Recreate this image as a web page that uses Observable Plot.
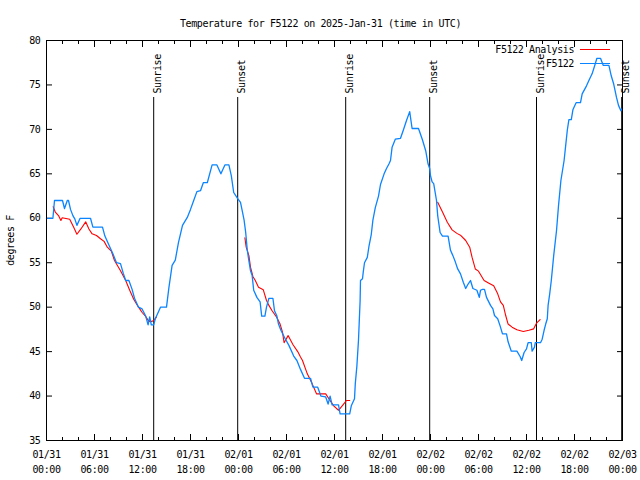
<!DOCTYPE html>
<html><head><meta charset="utf-8">
<script src="https://cdn.jsdelivr.net/npm/d3@7"></script>
<script src="https://cdn.jsdelivr.net/npm/@observablehq/plot@0.6"></script>
<style>
html,body{margin:0;padding:0;background:#fff;}
#wrap{position:relative;width:640px;height:480px;overflow:hidden;}
#legend{position:absolute;top:0;left:0;font-family:"DejaVu Sans Mono",monospace;font-size:10px;letter-spacing:-0.4px;color:#000;}
.lg-row{position:absolute;white-space:nowrap;}
.lg-text{position:absolute;right:0;transform:translateY(-50%);}
.lg-line{position:absolute;height:0;}
</style></head><body><div id="wrap"></div>
<script>
const titleText = "Temperature for F5122 on 2025-Jan-31 (time in UTC)";
const yLabel = "degrees F";
const seriesNames = ["F5122 Analysis", "F5122"];
const seriesColors = ["#ff0000", "#0a84ff"];
const startTime = "2025-01-31T00:00:00Z";
const endTime = "2025-02-03T00:00:00Z";
const yTicks = [35, 40, 45, 50, 55, 60, 65, 70, 75, 80];

// Observations (hours since start, deg F)
const obsHours = [0.0,0.8,1.0,2.0,2.25,2.6,2.75,3.0,3.3,3.55,3.8,4.2,5.5,5.8,7.0,7.3,7.8,8.3,8.75,9.25,9.6,9.9,10.3,10.7,11.0,11.5,11.95,12.4,12.7,12.9,13.1,13.4,13.6,14.25,15.0,15.3,15.7,16.1,16.5,17.0,17.6,18.0,18.4,18.8,19.25,19.6,20.1,20.7,21.3,21.8,22.3,22.8,23.1,23.4,23.9,24.25,24.5,24.7,24.9,25.1,25.3,25.5,25.7,25.9,26.3,26.7,26.9,27.3,27.5,27.8,28.3,28.5,28.8,29.0,29.3,29.8,30.3,30.9,31.3,31.75,32.25,33.0,33.3,33.9,34.3,34.9,35.2,35.45,35.7,36.5,36.7,37.9,38.1,38.5,38.6,38.8,39.0,39.2,39.25,39.5,39.6,39.75,40.1,40.3,40.6,40.8,41.1,41.5,41.75,42.2,42.5,42.8,43.0,43.2,43.6,44.25,44.6,45.0,45.4,45.7,46.5,47.0,47.4,47.7,47.9,48.0,48.2,48.4,48.75,48.9,49.2,49.5,50.2,50.5,50.8,51.1,51.4,51.75,52.1,52.4,52.7,53.0,53.3,53.8,54.1,54.25,54.5,54.75,55.0,55.5,55.8,56.0,56.4,56.7,57.0,57.5,57.7,58.1,58.8,59.2,59.4,59.7,60.0,60.2,60.6,60.7,61.0,61.1,61.75,61.96,62.2,62.4,62.6,62.7,62.9,63.1,63.4,63.75,64.0,64.3,64.7,64.9,65.1,65.3,65.6,65.8,66.2,66.75,66.96,67.5,67.9,68.2,68.5,68.8,69.25,69.6,70.3,70.6,70.9,71.25,71.5,71.8,72.0];
const obsTemps = [60,60,62,62,61.1,62,62,61,60.3,59.9,59.2,60,60,59,59,58,57,56,55,54.9,53.8,53,53,52,51,50,49.8,49,48,48.9,48,48,48.7,50,50,52.2,54.7,55.3,57.3,59.2,60.1,61,62,63,63.1,64,64,66,66,65,66,66,64.8,62.9,62.2,61.8,60.7,59.8,58.4,56.4,55.2,54.1,53.6,51.9,51.1,50.6,49,49,50,51,51,49.6,49,48.1,47.4,46.5,45.7,44.5,44,43,42,42,41,41,40,39.9,39.1,40,39,39,38,38,38.9,39.7,41.4,43.4,46.3,50.7,53,53.2,54,55,55.6,56.8,58.2,59.8,61.2,62.5,63.8,65,65.6,66.1,66.5,68,68.9,69,69.9,71,72,70.1,70.1,68.8,67.6,66.1,65.6,64.8,64.1,63.9,62,60.3,58.4,58,58,56.4,55.8,55.1,54.3,53.75,52.8,52.1,52.6,53,52.1,51.9,51.1,51.9,52,52,51.1,50.2,49.8,49.06,48.7,47.9,47,47,46.1,45.05,45.05,44.45,44,44.9,45.3,46,46,45.05,45.5,46,46,46.4,47.4,48.1,48.7,50.2,51.5,53,55.8,58.6,61.4,64.25,66.5,68.2,69.9,71.1,71.1,72.2,73,73,74,74.9,75.7,76.25,77.1,78,78,77.2,77.2,76,75.1,73.6,72.7,72.1,72.4];

// Analysis (hours since start, deg F); null = no analysis
const anaHours = [0.83,1.1,1.5,1.8,1.96,2.9,3.4,3.8,4.3,4.9,5.3,5.7,6.25,6.75,7.2,7.6,8.1,8.5,9.25,9.9,10.4,10.9,11.5,11.96,12.4,12.8,13.2,13.5,13.75,14.0,24.8,24.96,25.3,25.5,25.8,26.1,26.5,27.1,27.5,27.8,28.2,28.75,29.2,29.5,29.7,30.2,30.8,31.4,31.75,32.0,32.6,33.2,33.75,34.9,35.3,35.9,36.5,36.96,37.5,37.9,38.2,48.9,49.5,50.1,50.7,51.3,51.8,52.4,52.9,53.2,53.6,54.0,54.7,55.3,55.9,56.4,56.75,57.1,57.4,57.7,58.2,58.8,59.6,60.3,60.9,61.25,61.7];
const anaTemps = [61.3,60.7,60.3,59.75,60.05,59.9,59.0,58.2,58.8,59.6,58.8,58.25,58.06,57.7,57.4,56.75,56.3,55.25,54.1,53,51.9,50.9,50,49.4,48.95,48.4,48.4,48.6,48.9,null,57.8,56.75,55.8,54.5,53.45,53,52.25,51.95,50.75,50.2,49.6,48.9,48.1,47.2,46.0,46.8,45.8,45.0,44.4,44,42.5,41.4,40.25,40.25,39.7,38.9,38.4,38.9,39.5,39.5,null,61.8,60.7,59.56,58.7,58.3,58.06,57.5,56.75,55.6,54.3,54.05,53.0,52.7,52.4,51.5,50.6,50.2,49.06,48.1,47.75,47.45,47.26,47.4,47.56,48.2,48.6];

// Sunrise / sunset (hours since start)
const sunHours = [13.4, 23.9, 37.4, 47.9, 61.25, 71.9];
const sunLabels = ["Sunrise", "Sunset", "Sunrise", "Sunset", "Sunrise", "Sunset"];

const t0 = new Date(startTime).getTime();
const toDate = h => new Date(t0 + h * 3600e3);
const obs = obsHours.map((h, i) => ({time: toDate(h), temp: obsTemps[i]}));
const ana = anaHours.map((h, i) => ({time: toDate(h), temp: anaTemps[i] == null ? NaN : anaTemps[i]}));
const sun = sunHours.map((h, i) => ({time: toDate(h), label: sunLabels[i]}));

const fmtTick = d => d3.utcFormat("%m/%d")(d) + "\n" + d3.utcFormat("%H:%M")(d);
const blank = () => "";
const major = d3.utcHour.every(6);
const minor = d3.utcHour.every(2);

const chart = Plot.plot({
  width: 640, height: 480,
  marginLeft: 46, marginRight: 18, marginTop: 40, marginBottom: 40,
  style: {fontFamily: "DejaVu Sans Mono, monospace", fontSize: "10px", letterSpacing: "-0.4px", background: "#fff", color: "#000"},
  x: {type: "utc", domain: [new Date(startTime), new Date(endTime)]},
  y: {domain: [35, 80]},
  marks: [
    Plot.axisY({ticks: yTicks, tickSize: 0, tickPadding: 6, label: yLabel, labelAnchor: "center", labelArrow: "none", labelOffset: 40}),
    Plot.axisY({ticks: yTicks, tickSize: -6, tickFormat: blank, label: null}),
    Plot.axisY({anchor: "right", ticks: yTicks, tickSize: -6, tickFormat: blank, label: null}),
    Plot.axisX({ticks: major, tickSize: 0, tickPadding: 7, tickFormat: fmtTick, lineHeight: 1.5, label: null}),
    Plot.axisX({ticks: major, tickSize: -6, tickFormat: blank, label: null}),
    Plot.axisX({ticks: minor, tickSize: -3, tickFormat: blank, label: null}),
    Plot.axisX({anchor: "top", ticks: major, tickSize: -6, tickFormat: blank, label: null}),
    Plot.axisX({anchor: "top", ticks: minor, tickSize: -3, tickFormat: blank, label: null}),
    Plot.ruleX(sun, {x: "time", insetTop: 57, stroke: "#000", strokeWidth: 1}),
    Plot.text(sun, {x: "time", text: "label", frameAnchor: "top", rotate: -90, textAnchor: "start", dy: 53}),
    Plot.line(ana, {x: "time", y: "temp", stroke: seriesColors[0], strokeWidth: 1.1, curve: "linear"}),
    Plot.line(obs, {x: "time", y: "temp", stroke: seriesColors[1], strokeWidth: 1.3, curve: "linear"}),
    Plot.frame({stroke: "#000", strokeWidth: 1}),
    Plot.text([titleText], {frameAnchor: "top", dx: -14, dy: -21})
  ]
});
const wrap = document.getElementById("wrap");
wrap.appendChild(chart);

// legend overlay (inside plot area, top right)
const legend = document.createElement("div");
legend.id = "legend";
seriesNames.forEach((name, i) => {
  const rowY = 49 + i * 14;
  const t = document.createElement("div");
  t.className = "lg-row lg-text";
  t.textContent = name;
  t.style.top = rowY + "px";
  t.style.right = (640 - 574) + "px";
  t.style.left = "auto";
  legend.appendChild(t);
  const l = document.createElement("div");
  l.className = "lg-line";
  l.style.left = "580px"; l.style.width = "30px"; l.style.top = (rowY - 0.5) + "px";
  l.style.borderTop = "1.3px solid " + seriesColors[i];
  legend.appendChild(l);
});
legend.style.width = "640px"; legend.style.height = "480px";
wrap.appendChild(legend);
</script></body></html>
